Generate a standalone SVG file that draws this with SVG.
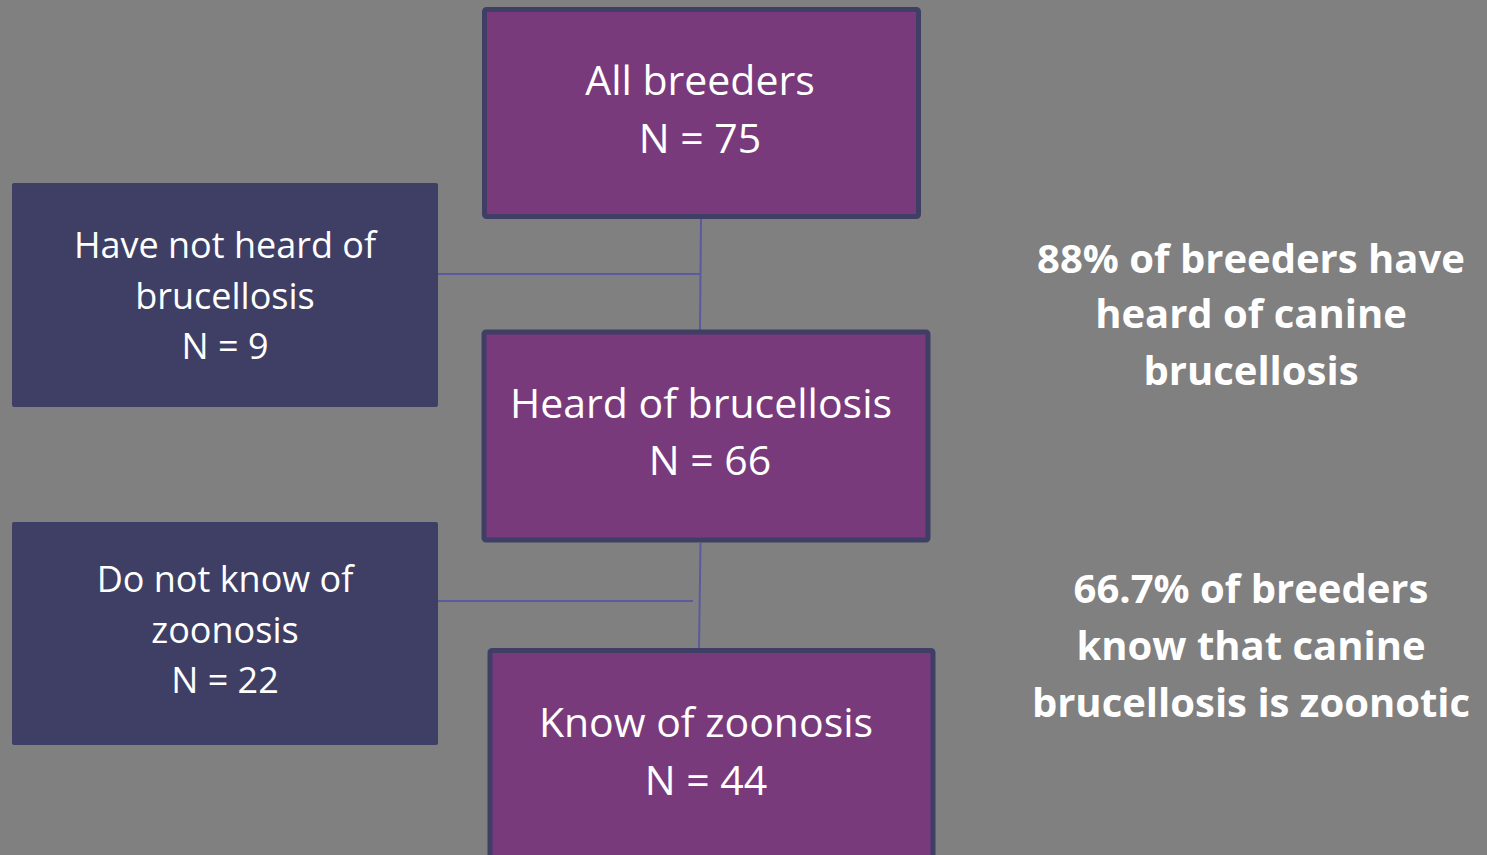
<svg xmlns="http://www.w3.org/2000/svg" width="1487" height="855" viewBox="0 0 1487 855">
<style>
.main{fill:#793A7C;stroke:#3F3F66;stroke-width:5}
.side{fill:#3F3F66}
.conn{stroke:#5A5A9E;stroke-width:2;fill:none}
.t{font-family:"Open Sans","Noto Sans","Liberation Sans",sans-serif;fill:#FFFFFF;text-anchor:middle}
.tm{font-size:41px}
.ts{font-size:36px}
.tb{font-size:40px;font-weight:bold}
</style>
<rect width="1487" height="855" fill="#808080"/>
<g id="connectors">
<line class="conn" x1="701" y1="219" x2="700" y2="330"/>
<line class="conn" x1="438" y1="274" x2="701" y2="274"/>
<line class="conn" x1="700.5" y1="543" x2="699" y2="648"/>
<line class="conn" x1="438" y1="601" x2="693" y2="601"/>
</g>
<g id="all-breeders">
<rect class="main" x="484.5" y="9.5" width="434" height="207" rx="2"/>
<text class="t tm" x="700" y="95">All breeders</text>
<text class="t tm" x="700" y="153">N = 75</text>
</g>
<g id="heard">
<rect class="main" x="484" y="332" width="444" height="208" rx="2"/>
<text class="t tm" x="701" y="418">Heard of brucellosis</text>
<text class="t tm" x="710" y="475">N = 66</text>
</g>
<g id="know">
<rect class="main" x="490" y="650.5" width="443" height="215" rx="2"/>
<text class="t tm" x="706" y="737">Know of zoonosis</text>
<text class="t tm" x="706" y="795">N = 44</text>
</g>
<g id="not-heard">
<rect class="side" x="12" y="183" width="426" height="224" rx="2"/>
<text class="t ts" x="225" y="258">Have not heard of</text>
<text class="t ts" x="225" y="309">brucellosis</text>
<text class="t ts" x="225" y="359">N = 9</text>
</g>
<g id="not-know">
<rect class="side" x="12" y="522" width="426" height="223" rx="2"/>
<text class="t ts" x="225" y="592">Do not know of</text>
<text class="t ts" x="225" y="643">zoonosis</text>
<text class="t ts" x="225" y="693">N = 22</text>
</g>
<g id="stat1">
<text class="t tb" x="1251" y="273">88% of breeders have</text>
<text class="t tb" x="1251" y="328">heard of canine</text>
<text class="t tb" x="1251" y="385">brucellosis</text>
</g>
<g id="stat2">
<text class="t tb" x="1251" y="603">66.7% of breeders</text>
<text class="t tb" x="1251" y="660">know that canine</text>
<text class="t tb" x="1251" y="717">brucellosis is zoonotic</text>
</g>
</svg>
